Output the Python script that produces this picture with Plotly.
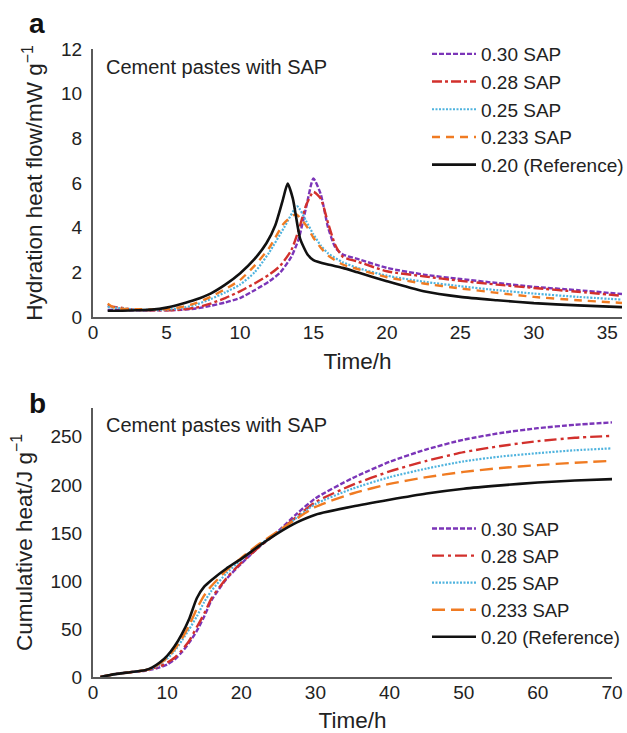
import plotly.graph_objects as go

# ---------------- Panel a: hydration heat flow (mW/g) ----------------
labels = ["0.30 SAP", "0.28 SAP", "0.25 SAP", "0.233 SAP", "0.20 (Reference)"]

t_a_030 = [1, 3, 5, 6, 7, 8, 9, 10, 11, 12, 12.75, 13.5, 14, 14.5, 15, 15.5, 16, 16.5, 17, 18, 20, 22.5, 25, 27.5, 30, 33, 36]
q_a_030 = [0.32, 0.3, 0.3, 0.32, 0.38, 0.5, 0.65, 0.85, 1.2, 1.6, 2.0, 2.7, 3.5, 4.9, 6.2, 5.5, 4.0, 3.1, 2.8, 2.6, 2.2, 1.9, 1.7, 1.52, 1.35, 1.2, 1.03]

t_a_028 = [1, 3, 5, 6, 7, 8, 9, 10, 11, 12, 12.75, 13.5, 14, 14.5, 15, 15.5, 16, 16.5, 17, 18, 20, 22.5, 25, 27.5, 30, 33, 36]
q_a_028 = [0.5, 0.32, 0.3, 0.33, 0.42, 0.6, 0.85, 1.15, 1.5, 1.9, 2.3, 3.0, 3.9, 5.0, 5.6, 5.3, 4.2, 3.2, 2.7, 2.48, 2.05, 1.82, 1.62, 1.45, 1.3, 1.13, 0.95]

t_a_025 = [1, 3, 5, 6, 7, 8, 9, 10, 11, 12, 13, 13.9, 14.5, 15, 15.5, 16, 17, 18, 20, 22.5, 25, 27.5, 30, 33, 36]
q_a_025 = [0.45, 0.33, 0.33, 0.4, 0.55, 0.8, 1.1, 1.45, 2.0, 2.9, 4.0, 4.95, 4.3, 3.7, 3.2, 2.85, 2.45, 2.2, 1.85, 1.58, 1.38, 1.2, 1.05, 0.9, 0.78]

t_a_0233 = [1, 1.5, 3, 5, 6, 7, 8, 9, 10, 11, 12, 13, 13.8, 14.5, 15, 15.5, 16, 17, 18, 20, 22.5, 25, 27.5, 30, 33, 36]
q_a_0233 = [0.6, 0.4, 0.35, 0.35, 0.45, 0.62, 0.9, 1.25, 1.65, 2.3, 3.1, 4.2, 4.6, 4.1, 3.55, 3.1, 2.75, 2.35, 2.15, 1.78, 1.5, 1.28, 1.08, 0.9, 0.75, 0.63]

t_a_020 = [1, 2, 3, 4, 5, 6, 7, 8, 9, 10, 11, 11.8, 12.4, 12.9, 13.25, 13.6, 14.1, 14.6, 15, 16, 17, 18, 20, 22.5, 25, 27.5, 30, 33, 36]
q_a_020 = [0.28, 0.28, 0.3, 0.33, 0.42, 0.58, 0.78, 1.05, 1.45, 1.95, 2.6, 3.3, 4.1, 5.2, 5.97, 5.3, 3.5, 2.8, 2.55, 2.35, 2.2, 2.0, 1.6, 1.15, 0.9, 0.75, 0.62, 0.52, 0.44]

# ---------------- Panel b: cumulative heat (J/g) ----------------
t_b = [1, 3, 5, 7, 8, 9, 10, 11, 12, 13, 14, 15, 16, 18, 20, 22.5, 25, 27.5, 30, 35, 40, 45, 50, 55, 60, 65, 70]
h_b_030 = [0, 3, 5, 6.5, 8, 10, 13, 18, 26, 36, 48, 63, 80, 102, 118, 136, 152, 170, 186, 207, 224, 237, 247, 254, 259, 262.5, 265]
h_b_028 = [0, 3, 5, 7, 9, 11, 15, 20, 28, 38, 52, 66, 82, 103, 119, 136, 151, 167, 182, 200, 214, 225, 234, 240.5, 245.5, 249, 251]
h_b_025 = [0, 3, 5, 7, 9, 13, 19, 27, 38, 50, 63, 78, 90, 108, 122, 138, 151, 166, 180, 196, 208, 217, 224.5, 229.5, 233, 236, 238]
h_b_0233 = [0, 3, 5, 7, 9, 14, 20, 29, 40, 54, 71, 85, 95, 111, 124, 139, 152, 165, 177, 191, 201, 208, 213.5, 217.5, 220.5, 223, 225]
h_b_020 = [0, 3, 5, 7, 10, 15, 22, 32, 45, 61, 82, 94, 101, 113, 123, 137, 150, 161, 169, 177.5, 184.5, 191, 196, 199.5, 202.5, 204.5, 206]

colors = ["#7B35B8", "#D2302C", "#4FB3DE", "#F07B22", "#111111"]
dashes_a = ["5px,2px", "10px,3px,3px,3px", "2px,1.5px", "8px,6px", "solid"]
dashes_b = ["5px,2px", "12px,4px,3px,4px", "2px,1.5px", "13px,6px", "solid"]
widths = [2.4, 2.4, 2.2, 2.4, 2.6]

FONT = "Liberation Sans, Arial, Helvetica, sans-serif"

fig = go.Figure()

a_series = [(t_a_030, q_a_030), (t_a_028, q_a_028), (t_a_025, q_a_025), (t_a_0233, q_a_0233), (t_a_020, q_a_020)]
for i, (tt, qq) in enumerate(a_series):
    fig.add_trace(go.Scatter(
        x=tt, y=qq, mode="lines", name=labels[i],
        line=dict(color=colors[i], width=widths[i], dash=dashes_a[i], shape="spline", smoothing=0.6),
        xaxis="x", yaxis="y", legend="legend",
    ))

b_series = [h_b_030, h_b_028, h_b_025, h_b_0233, h_b_020]
for i, hh in enumerate(b_series):
    fig.add_trace(go.Scatter(
        x=t_b, y=hh, mode="lines", name=labels[i],
        line=dict(color=colors[i], width=widths[i], dash=dashes_b[i], shape="spline", smoothing=0.6),
        xaxis="x2", yaxis="y2", legend="legend2",
    ))

tickfont = dict(size=19, color="#222222", family=FONT)
titlefont = dict(size=22.5, color="#222222", family=FONT)
xcommon = dict(showgrid=False, zeroline=False, showline=True, linecolor="#5a5a5a", linewidth=2,
               ticks="", tickfont=tickfont, ticklabelstandoff=-3)
ycommon = dict(showgrid=False, zeroline=False, showline=True, linecolor="#5a5a5a", linewidth=2,
               ticks="outside", ticklen=5, tickcolor="rgba(0,0,0,0)", tickfont=tickfont)

W, H = 627, 733
L, R, T, B = 93, 5, 49, 56
pw, ph = W - L - R, H - T - B


def px(x):
    return (x - L) / pw


def py(y):
    return (H - B - y) / ph


def clip01(v):
    return max(0.0, min(1.0, v))


fig.update_layout(
    width=W, height=H,
    margin=dict(l=L, r=R, t=T, b=B, autoexpand=False),
    paper_bgcolor="white", plot_bgcolor="white",
    font=dict(family=FONT, color="#222222"),
    xaxis=dict(domain=[0, 1], range=[0, 36], tickvals=[0, 5, 10, 15, 20, 25, 30, 35],
               anchor="y", title=dict(text="Time/h", font=titlefont, standoff=11), **xcommon),
    yaxis=dict(domain=[clip01(py(317)), 1.0], range=[0, 12], tickvals=[0, 2, 4, 6, 8, 10, 12],
               anchor="x", title=dict(text="Hydration heat flow/mW g<sup>−1</sup>", font=titlefont, standoff=12),
               **ycommon),
    xaxis2=dict(domain=[0, clip01(px(612))], range=[0, 70], tickvals=[0, 10, 20, 30, 40, 50, 60, 70],
                anchor="y2", title=dict(text="Time/h", font=titlefont, standoff=11), **xcommon),
    yaxis2=dict(domain=[0, clip01(py(408))], range=[0, 280], tickvals=[0, 50, 100, 150, 200, 250],
                anchor="x2", title=dict(text="Cumulative heat/J g<sup>−1</sup>", font=titlefont, standoff=12),
                **ycommon),
    legend=dict(x=px(427), y=py(35), xanchor="left", yanchor="top", bgcolor="rgba(0,0,0,0)",
                font=dict(size=19, color="#222222", family=FONT), tracegroupgap=0, itemwidth=44),
    legend2=dict(x=px(427), y=py(510), xanchor="left", yanchor="top", bgcolor="rgba(0,0,0,0)",
                 font=dict(size=18.5, color="#222222", family=FONT), tracegroupgap=0, itemwidth=44),
)

fig.add_annotation(text="<b>a</b>", x=px(27), y=py(24), xref="paper", yref="paper", xanchor="left", yanchor="middle",
                   showarrow=False, font=dict(size=28, color="#111111", family=FONT))
fig.add_annotation(text="<b>b</b>", x=px(27), y=py(403), xref="paper", yref="paper", xanchor="left", yanchor="middle",
                   showarrow=False, font=dict(size=28, color="#111111", family=FONT))
fig.add_annotation(text="Cement pastes with SAP", x=px(104), y=py(67), xref="paper", yref="paper",
                   xanchor="left", yanchor="middle", showarrow=False, font=dict(size=20, color="#222222", family=FONT))
fig.add_annotation(text="Cement pastes with SAP", x=px(104), y=py(425), xref="paper", yref="paper",
                   xanchor="left", yanchor="middle", showarrow=False, font=dict(size=20, color="#222222", family=FONT))

fig.write_html("out.html", config={"displayModeBar": False},
               post_script="document.body.style.margin='0';document.body.style.overflow='hidden';")
